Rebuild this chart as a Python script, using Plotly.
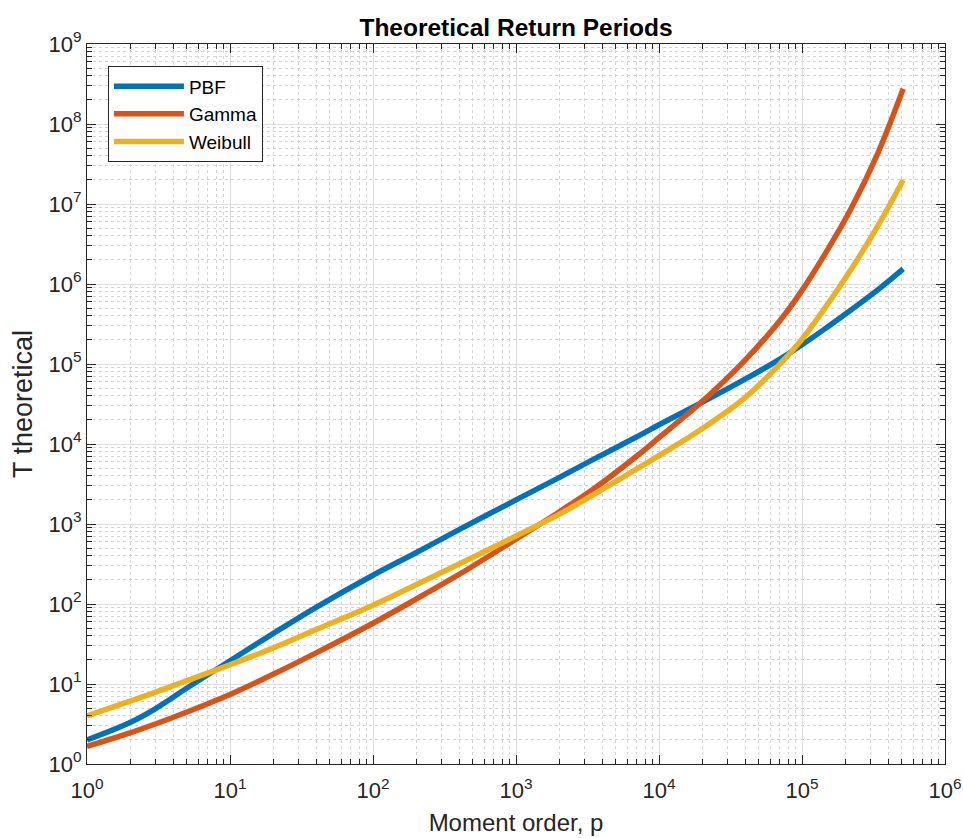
import plotly.graph_objects as go

# Moment order p (x) and theoretical return periods (y)
p_vals = [1, 2, 3, 5, 10, 20, 40, 100, 200, 400, 1000, 2000, 3500, 7000,
          1e4, 2e4, 4e4, 7e4, 1e5, 1.5e5, 2.2e5, 3.4e5, 5.1e5]
pbf = [2.0, 3.3, 4.9, 8.9, 19.5, 42.7, 91, 229, 437, 851, 2000, 3800, 6460, 12300,
       17400, 33100, 64600, 115000, 173800, 288400, 473000, 851000, 1549000]
gamma = [1.66, 2.45, 3.16, 4.47, 7.4, 13.2, 24.5, 57.5, 115, 234, 646, 1413, 2754, 7080,
         12000, 33900, 112000, 347000, 832000, 2630000, 8710000, 43650000, 275400000]
weibull = [3.98, 6.1, 7.85, 11.0, 17.4, 28.2, 47.9, 96.6, 174, 316, 708, 1318, 2344, 4900,
           7160, 15500, 38000, 100000, 204000, 550000, 1514000, 5370000, 19950000]

series_names = ["PBF", "Gamma", "Weibull"]
series_colors = ["#0072BD", "#D95319", "#EDB120"]

x_exps = list(range(0, 7))
y_exps = list(range(0, 10))
x_tickvals = [10 ** e for e in x_exps]
x_ticktext = ["10<sup>%d</sup>" % e for e in x_exps]
y_tickvals = [10 ** e for e in y_exps]
y_ticktext = ["10<sup>%d</sup>" % e for e in y_exps]
x_minor = [m * 10 ** e for e in x_exps[:-1] for m in range(2, 10)]
y_minor = [m * 10 ** e for e in y_exps[:-1] for m in range(2, 10)]

FONT = "Liberation Sans, Arial, sans-serif"

fig = go.Figure()
for name, ys, col in zip(series_names, [pbf, gamma, weibull], series_colors):
    fig.add_trace(go.Scatter(x=p_vals, y=ys, mode="lines", name=name,
                             line=dict(color=col, width=5.5, shape="spline", smoothing=1.0)))

axis_common = dict(
    type="log", automargin=False, ticklabeloverflow="allow",
    showline=True, linecolor="#262626", linewidth=1, mirror="ticks",
    ticks="inside", ticklen=9, tickcolor="#262626", tickwidth=1,
    showgrid=True, gridcolor="#dcdcdc", gridwidth=1,
    zeroline=False,
    tickfont=dict(family=FONT, size=22, color="#262626"),
)

fig.update_xaxes(
    **axis_common,
    range=[0, 6], ticklabelstandoff=7,
    tickmode="array", tickvals=x_tickvals, ticktext=x_ticktext,
    minor=dict(tickmode="array", tickvals=x_minor, ticks="inside", ticklen=5,
               tickcolor="#262626", showgrid=True, gridcolor="#d4d4d4", griddash="dot", gridwidth=1),
    title=dict(text="Moment order, p", standoff=11,
               font=dict(family=FONT, size=24, color="#262626")),
)
fig.update_yaxes(
    **axis_common,
    range=[0, 9],
    tickmode="array", tickvals=y_tickvals, ticktext=y_ticktext,
    minor=dict(tickmode="array", tickvals=y_minor, ticks="inside", ticklen=5,
               tickcolor="#262626", showgrid=True, gridcolor="#d4d4d4", griddash="dot", gridwidth=1),
    title=dict(text="T theoretical", standoff=8,
               font=dict(family=FONT, size=27, color="#262626")),
)

fig.update_layout(
    width=963, height=838,
    margin=dict(l=87, r=18, t=44, b=74),
    paper_bgcolor="white", plot_bgcolor="white",
    title=dict(text="<b>Theoretical Return Periods</b>", x=0.5, xref="paper",
               y=1 - 27 / 838, yref="container", yanchor="middle", xanchor="center",
               font=dict(family=FONT, size=24.5, color="black")),
    legend=dict(x=0.0244, y=0.969, xanchor="left", yanchor="top",
                bgcolor="white", bordercolor="#262626", borderwidth=1,
                font=dict(family=FONT, size=19, color="black"),
                itemwidth=70, tracegroupgap=0),
    showlegend=True,
)

fig.write_html("out.html")
